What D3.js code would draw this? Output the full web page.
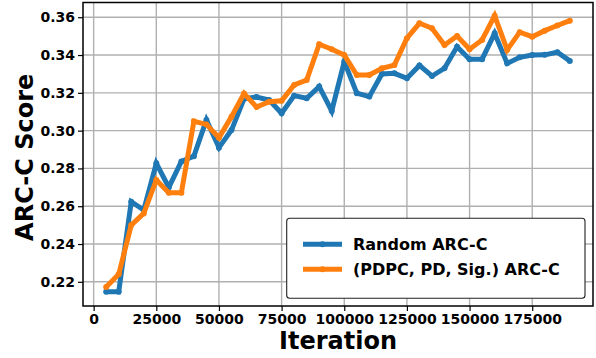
<!DOCTYPE html>
<html>
<head>
<meta charset="utf-8">
<script src="https://cdn.jsdelivr.net/npm/d3@7"></script>
<style>
  html, body { margin: 0; padding: 0; background: #fff; }
  svg { display: block; font-family: "DejaVu Sans", sans-serif; font-weight: bold; }
</style>
</head>
<body>
<svg id="chart" width="596" height="358"></svg>
<script>
// Training iterations at which ARC-C was evaluated
const iterations = d3.range(5000, 190001, 5000);

// ARC-C accuracy for each data-selection strategy
const randomScores = [
  0.2147, 0.2147, 0.2624, 0.2580, 0.2827, 0.2700, 0.2837, 0.2865, 0.3056, 0.2910,
  0.3003, 0.3168, 0.3178, 0.3162, 0.3092, 0.3185, 0.3171, 0.3233, 0.3104, 0.3365,
  0.3198, 0.3180, 0.3300, 0.3303, 0.3277, 0.3345, 0.3289, 0.3330, 0.3444, 0.3378,
  0.3378, 0.3515, 0.3356, 0.3388, 0.3400, 0.3401, 0.3415, 0.3369
];
const pdpcScores = [
  0.2172, 0.2240, 0.2500, 0.2562, 0.2739, 0.2671, 0.2671, 0.3049, 0.3033, 0.2962,
  0.3074, 0.3196, 0.3125, 0.3153, 0.3158, 0.3242, 0.3268, 0.3457, 0.3431, 0.3400,
  0.3294, 0.3294, 0.3330, 0.3347, 0.3489, 0.3568, 0.3542, 0.3453, 0.3501, 0.3431,
  0.3480, 0.3608, 0.3427, 0.3521, 0.3497, 0.3529, 0.3556, 0.3582
];

const seriesNames = ["Random ARC-C", "(PDPC, PD, Sig.) ARC-C"];
const seriesColors = ["#1f77b4", "#ff7f0e"];

const xTicks = [0, 25000, 50000, 75000, 100000, 125000, 150000, 175000];
const yTicks = [0.22, 0.24, 0.26, 0.28, 0.30, 0.32, 0.34, 0.36];

const xLabel = "Iteration";
const yLabel = "ARC-C Score";

const series = [randomScores, pdpcScores].map((vals, k) => ({
  name: seriesNames[k],
  color: seriesColors[k],
  points: iterations.map((it, i) => ({ x: it, y: vals[i] }))
}));

// Plot area
const plotL = 83, plotR = 593, plotT = 2.5, plotB = 306;

const x = d3.scaleLinear().domain([-4250, 199250]).range([plotL, plotR]);
const y = d3.scaleLinear().domain([0.2072, 0.3678]).range([plotB, plotT]);

const svg = d3.select("#chart");

// Grid
const grid = svg.append("g").attr("stroke", "#b0b0b0").attr("stroke-width", 1.4);
grid.selectAll("line.gx").data(xTicks).join("line")
  .attr("class", "gx")
  .attr("x1", d => x(d)).attr("x2", d => x(d))
  .attr("y1", plotT).attr("y2", plotB);
grid.selectAll("line.gy").data(yTicks).join("line")
  .attr("class", "gy")
  .attr("x1", plotL).attr("x2", plotR)
  .attr("y1", d => y(d)).attr("y2", d => y(d));

// Axes
const xAxis = svg.append("g")
  .attr("transform", `translate(0,${plotB})`)
  .call(d3.axisBottom(x).tickValues(xTicks).tickFormat(d3.format("d")).tickSize(5).tickPadding(3));
const yAxis = svg.append("g")
  .attr("transform", `translate(${plotL},0)`)
  .call(d3.axisLeft(y).tickValues(yTicks).tickFormat(d3.format(".2f")).tickSize(5).tickPadding(3));

[xAxis, yAxis].forEach(a => {
  a.select(".domain").remove();
  a.selectAll(".tick line").attr("stroke", "#000").attr("stroke-width", 1.2);
  a.selectAll(".tick text")
    .attr("fill", "#000")
    .style("font-size", "14px")
    .style("font-weight", "bold")
    .style("font-family", "'DejaVu Sans', sans-serif");
});

// Series lines
const line = d3.line().x(d => x(d.x)).y(d => y(d.y));
const plot = svg.append("g");
series.forEach(s => {
  plot.append("path")
    .datum(s.points)
    .attr("fill", "none")
    .attr("stroke", s.color)
    .attr("stroke-width", 5)
    .attr("stroke-linejoin", "miter")
    .attr("d", line);
  plot.append("g").selectAll("circle").data(s.points).join("circle")
    .attr("cx", d => x(d.x)).attr("cy", d => y(d.y))
    .attr("r", 3).attr("fill", s.color);
});

// Frame
svg.append("rect")
  .attr("x", plotL).attr("y", plotT)
  .attr("width", plotR - plotL).attr("height", plotB - plotT)
  .attr("fill", "none").attr("stroke", "#000").attr("stroke-width", 1.5);

// Axis titles
svg.append("text")
  .attr("x", (plotL + plotR) / 2).attr("y", 349)
  .attr("text-anchor", "middle")
  .style("font-size", "24px")
  .text(xLabel);
svg.append("text")
  .attr("transform", `translate(33,${(plotT + plotB) / 2 + 3}) rotate(-90)`)
  .attr("text-anchor", "middle")
  .style("font-size", "24px")
  .text(yLabel);

// Legend
const legend = svg.append("g");
legend.append("rect")
  .attr("x", 286.7).attr("y", 218.3)
  .attr("width", 298.3).attr("height", 80)
  .attr("rx", 3).attr("ry", 3)
  .attr("fill", "#fff").attr("stroke", "#222").attr("stroke-width", 1.1);
series.forEach((s, k) => {
  const cy = 244.3 + k * 25;
  legend.append("line")
    .attr("x1", 303).attr("x2", 342)
    .attr("y1", cy).attr("y2", cy)
    .attr("stroke", s.color).attr("stroke-width", 5);
  legend.append("circle")
    .attr("cx", 322.5).attr("cy", cy).attr("r", 3).attr("fill", s.color);
  legend.append("text")
    .attr("x", 353).attr("y", cy + 5.8)
    .style("font-size", "16px")
    .text(s.name);
});
</script>
</body>
</html>
